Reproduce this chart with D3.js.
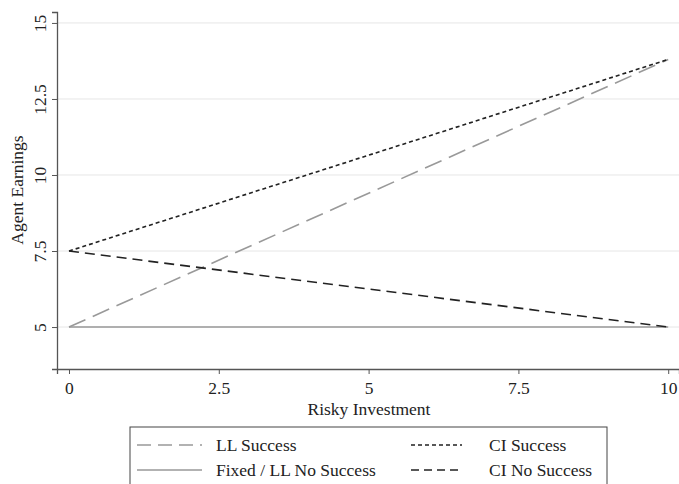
<!DOCTYPE html>
<html><head><meta charset="utf-8">
<script src="https://cdn.jsdelivr.net/npm/d3@7"></script>
<style>body{margin:0;background:#fff}svg{display:block}text{font-family:"Liberation Serif","Times New Roman",serif;fill:#222}</style>
</head><body><svg id="c" width="679" height="484"></svg>
<script>
const xTicks=[0,2.5,5,7.5,10];
const yTicks=[5,7.5,10,12.5,15];
const xs=[0,10];
const llSuccess=[5,13.8];
const fixedNoSuccess=[5,5];
const ciSuccess=[7.5,13.8];
const ciNoSuccess=[7.5,5];
const seriesNames=["LL Success","Fixed / LL No Success","CI Success","CI No Success"];

const FS="17.5px";
const svg=d3.select("#c");
const x=d3.scaleLinear().domain([-0.2,10.18]).range([57,679]);
const y=d3.scaleLinear().domain([3.62,15.36]).range([369,12]);

svg.append("g").selectAll("line").data(yTicks).join("line")
 .attr("x1",57).attr("x2",679).attr("y1",d=>y(d)).attr("y2",d=>y(d))
 .attr("stroke","#e6e6e6").attr("stroke-width",1);

const fmt=d=>d3.format("~g")(d);
const xa=svg.append("g").attr("transform","translate(0,369)")
 .call(d3.axisBottom(x).tickValues(xTicks).tickFormat(fmt).tickSize(5).tickPadding(8));
const ya=svg.append("g").attr("transform","translate(57,0)")
 .call(d3.axisLeft(y).tickValues(yTicks).tickFormat(fmt).tickSize(5).tickPadding(6));
[xa,ya].forEach(a=>{a.select(".domain").attr("stroke","#555").attr("stroke-width",1.3);
 a.selectAll(".tick line").attr("stroke","#555");
 a.selectAll("text").style("font-family",'"Liberation Serif",serif').style("font-size",FS).attr("fill","#222");});
ya.selectAll(".tick").each(function(){
  d3.select(this).select("text").attr("x",null).attr("text-anchor","middle")
   .attr("transform","translate(-17,0) rotate(-90)").attr("dy","0.35em");
});

svg.append("text").attr("x",369).attr("y",415).attr("text-anchor","middle").style("font-size",FS).text("Risky Investment");
svg.append("text").attr("transform","translate(23,190) rotate(-90)").attr("text-anchor","middle").style("font-size",FS).text("Agent Earnings");

const line=d3.line().x((d,i)=>x(xs[i])).y(d=>y(d));
const styles=[
 {data:llSuccess,stroke:"#999",dash:"18,8",w:1.6},
 {data:fixedNoSuccess,stroke:"#999",dash:null,w:1.6},
 {data:ciSuccess,stroke:"#222",dash:"4,3",w:1.6},
 {data:ciNoSuccess,stroke:"#222",dash:"10,6",w:1.6}
];
styles.forEach(s=>{
 svg.append("path").datum(s.data).attr("d",line).attr("fill","none")
  .attr("stroke",s.stroke).attr("stroke-width",s.w).attr("stroke-dasharray",s.dash);
});

const lg=svg.append("g");
lg.append("rect").attr("x",130).attr("y",427).attr("width",477).attr("height",62)
 .attr("fill","none").attr("stroke","#444").attr("stroke-width",1);
const pos=[[137,202,216,445],[137,202,216,470],[411,462,489,445],[411,462,489,470]];
const lstyles=[{s:"#999",d:"14,7"},{s:"#999",d:null},{s:"#222",d:"4,3"},{s:"#222",d:"8,5"}];
seriesNames.forEach((n,i)=>{
 const p=pos[i];
 lg.append("line").attr("x1",p[0]).attr("x2",p[1]).attr("y1",p[3]).attr("y2",p[3])
  .attr("stroke",lstyles[i].s).attr("stroke-width",1.6).attr("stroke-dasharray",lstyles[i].d);
 lg.append("text").attr("x",p[2]).attr("y",p[3]).attr("dy","0.35em").style("font-size",FS).text(n);
});
</script></body></html>
